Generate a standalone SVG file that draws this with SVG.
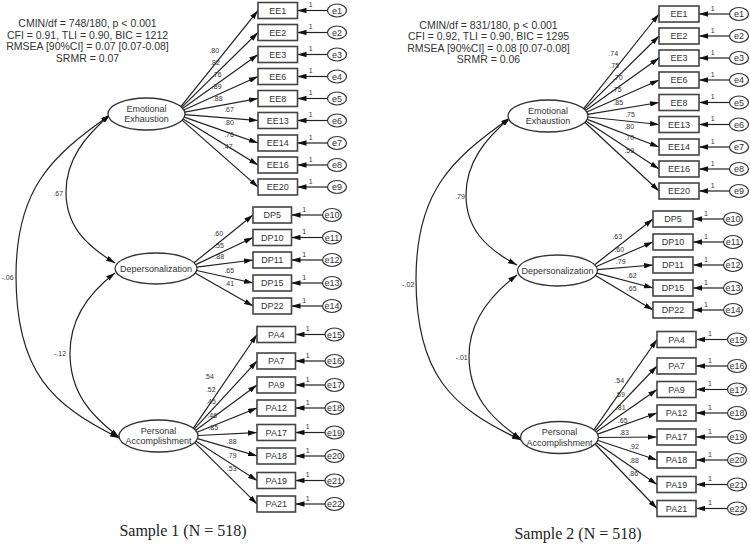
<svg xmlns="http://www.w3.org/2000/svg" width="750" height="545" viewBox="0 0 750 545">
<defs>
<marker id="ah" viewBox="0 0 10 6" refX="10" refY="3" markerWidth="9" markerHeight="5.4" markerUnits="userSpaceOnUse" orient="auto-start-reverse"><path d="M0,0 L10,3 L0,6 z" fill="#111"/></marker>
<style>
.lat{fill:#fff;stroke:#333;stroke-width:1.3}
.obs{fill:#fff;stroke:#444;stroke-width:1.6}
.err{fill:#fff;stroke:#333;stroke-width:1.2}
.t{font-family:"Liberation Sans",Arial,sans-serif;font-size:9px;fill:#333;text-anchor:middle}
.s{font-size:7px}
.st{font-size:10.5px}
.cap{font-family:"Liberation Serif","Times New Roman",serif;font-size:16px;fill:#222;text-anchor:middle}
.ln{stroke:#222;stroke-width:1.2;fill:none;marker-end:url(#ah)}
.cv{stroke:#222;stroke-width:1.2;fill:none;marker-start:url(#ah);marker-end:url(#ah)}
</style>
</defs>
<rect width="750" height="545" fill="#fff"/>

<!-- Fit statistics -->
<g id="fit1" class="t st">
<text x="87.5" y="27">CMIN/df = 748/180, p &lt; 0.001</text>
<text x="87.5" y="38.5">CFI = 0.91, TLI = 0.90, BIC = 1212</text>
<text x="87.5" y="50">RMSEA [90%CI] = 0.07 [0.07-0.08]</text>
<text x="87.5" y="61.5">SRMR = 0.07</text>
</g>
<g id="fit2" class="t st">
<text x="488.5" y="28.5">CMIN/df = 831/180, p &lt; 0.001</text>
<text x="488.5" y="40">CFI = 0.92, TLI = 0.90, BIC = 1295</text>
<text x="488.5" y="51.5">RMSEA [90%CI] = 0.08 [0.07-0.08]</text>
<text x="488.5" y="63">SRMR = 0.06</text>
</g>

<!-- Connectors -->
<g id="connectors">
<!-- Sample 1 covariances -->
<path class="cv" d="M110,115 C50,157 16,190 16,276 C16,372 52,405 119,438"/>
<path class="cv" d="M110,115 C85,136 66,160 66,192 C66,225 85,245 115,263"/>
<path class="cv" d="M115,273 C90,292 70,318 70,353 C70,392 90,415 119,437"/>
<!-- Sample 2 covariances -->
<path class="cv" d="M510,118 C450,160 416,193 416,279 C416,375 452,408 521,440"/>
<path class="cv" d="M510,118 C485,139 466,163 466,195 C466,228 485,248 517,265"/>
<path class="cv" d="M517,275 C492,294 469,320 469,356 C469,395 490,418 521,439"/>

<!-- Sample 1 EE loadings -->
<path class="ln" d="M180.8,106.7 L258,10.5"/>
<path class="ln" d="M181.6,107.4 L258,32.5"/>
<path class="ln" d="M182.6,108.5 L258,54.5"/>
<path class="ln" d="M183.8,110 L258,76.5"/>
<path class="ln" d="M184.7,112.1 L258,98.5"/>
<path class="ln" d="M185,114.7 L258,120.5"/>
<path class="ln" d="M184.3,117.1 L258,143"/>
<path class="ln" d="M183.1,118.9 L258,165"/>
<path class="ln" d="M182.1,120.1 L258,187"/>
<!-- Sample 1 DP loadings -->
<path class="ln" d="M194,262.8 L253,215"/>
<path class="ln" d="M195.7,264.6 L253,237.5"/>
<path class="ln" d="M196.8,267.1 L253,260"/>
<path class="ln" d="M196.7,270.5 L253,283"/>
<path class="ln" d="M195.1,273.1 L253,306"/>
<!-- Sample 1 PA loadings -->
<path class="ln" d="M193.2,428.3 L257,334.5"/>
<path class="ln" d="M194.2,429.2 L257,361"/>
<path class="ln" d="M195.4,430.4 L257,385"/>
<path class="ln" d="M197,432.3 L257,408"/>
<path class="ln" d="M198,435.5 L257,432.5"/>
<path class="ln" d="M197.5,438.7 L257,456"/>
<path class="ln" d="M195.8,441.1 L257,480.5"/>
<path class="ln" d="M194.6,442.4 L257,504"/>
<!-- Sample 2 EE loadings -->
<path class="ln" d="M583.6,108.7 L659,14"/>
<path class="ln" d="M584.5,109.4 L659,36"/>
<path class="ln" d="M585.5,110.5 L659,58"/>
<path class="ln" d="M586.8,112 L659,80"/>
<path class="ln" d="M587.7,114.3 L659,102.5"/>
<path class="ln" d="M588,117 L659,124.5"/>
<path class="ln" d="M587.2,119.4 L659,147"/>
<path class="ln" d="M585.8,121.1 L659,169"/>
<path class="ln" d="M584.8,122.2 L659,191"/>
<!-- Sample 2 DP loadings -->
<path class="ln" d="M594.7,264.7 L653,219"/>
<path class="ln" d="M596.3,266.5 L653,242"/>
<path class="ln" d="M597.4,269.7 L653,265"/>
<path class="ln" d="M597,273.1 L653,288"/>
<path class="ln" d="M595.5,275.4 L653,310"/>
<!-- Sample 2 PA loadings -->
<path class="ln" d="M593.8,429.9 L657,339.5"/>
<path class="ln" d="M594.9,430.8 L657,366"/>
<path class="ln" d="M596.1,432.1 L657,389.5"/>
<path class="ln" d="M597.6,434.1 L657,413"/>
<path class="ln" d="M598.5,437.5 L657,437"/>
<path class="ln" d="M598,440.5 L657,460"/>
<path class="ln" d="M596.3,442.7 L657,484.5"/>
<path class="ln" d="M595,444 L657,508.5"/>

<!-- Sample 1 error paths -->
<path class="ln" d="M327.5,10.5 L297.5,10.5"/>
<path class="ln" d="M327.5,32.5 L297.5,32.5"/>
<path class="ln" d="M327.5,54.5 L297.5,54.5"/>
<path class="ln" d="M327.5,76.5 L297.5,76.5"/>
<path class="ln" d="M327.5,98.5 L297.5,98.5"/>
<path class="ln" d="M327.5,120.5 L297.5,120.5"/>
<path class="ln" d="M327.5,143 L297.5,143"/>
<path class="ln" d="M327.5,165 L297.5,165"/>
<path class="ln" d="M327.5,187 L297.5,187"/>
<path class="ln" d="M322.5,215 L291.5,215"/>
<path class="ln" d="M322.5,237.5 L291.5,237.5"/>
<path class="ln" d="M322.5,260 L291.5,260"/>
<path class="ln" d="M322.5,283 L291.5,283"/>
<path class="ln" d="M322.5,306 L291.5,306"/>
<path class="ln" d="M325,334.5 L295.5,334.5"/>
<path class="ln" d="M325,361 L295.5,361"/>
<path class="ln" d="M325,385 L295.5,385"/>
<path class="ln" d="M325,408 L295.5,408"/>
<path class="ln" d="M325,432.5 L295.5,432.5"/>
<path class="ln" d="M325,456 L295.5,456"/>
<path class="ln" d="M325,480.5 L295.5,480.5"/>
<path class="ln" d="M325,504 L295.5,504"/>
<!-- Sample 2 error paths -->
<path class="ln" d="M729.5,14 L699,14"/>
<path class="ln" d="M729.5,36 L699,36"/>
<path class="ln" d="M729.5,58 L699,58"/>
<path class="ln" d="M729.5,80 L699,80"/>
<path class="ln" d="M729.5,102.5 L699,102.5"/>
<path class="ln" d="M729.5,124.5 L699,124.5"/>
<path class="ln" d="M729.5,147 L699,147"/>
<path class="ln" d="M729.5,169 L699,169"/>
<path class="ln" d="M729.5,191 L699,191"/>
<path class="ln" d="M723.5,219 L693,219"/>
<path class="ln" d="M723.5,242 L693,242"/>
<path class="ln" d="M723.5,265 L693,265"/>
<path class="ln" d="M723.5,288 L693,288"/>
<path class="ln" d="M723.5,310 L693,310"/>
<path class="ln" d="M727.5,339.5 L696,339.5"/>
<path class="ln" d="M727.5,366 L696,366"/>
<path class="ln" d="M727.5,389.5 L696,389.5"/>
<path class="ln" d="M727.5,413 L696,413"/>
<path class="ln" d="M727.5,437 L696,437"/>
<path class="ln" d="M727.5,460 L696,460"/>
<path class="ln" d="M727.5,484.5 L696,484.5"/>
<path class="ln" d="M727.5,508.5 L696,508.5"/>

<!-- Labels -->
<g class="t s">
<text x="58.3" y="195.8">.67</text>
<text x="7.5" y="279.5">-.06</text>
<text x="60" y="355.8">-.12</text>
<text x="460" y="199.2">.79</text>
<text x="408.3" y="286.5">-.02</text>
<text x="461.7" y="360.2">-.01</text>

<text x="214.3" y="53.2">.80</text>
<text x="215" y="65.2">.82</text>
<text x="216.7" y="76.5">.76</text>
<text x="216.7" y="88.5">.89</text>
<text x="217.7" y="100.8">.88</text>
<text x="229" y="111.5">.67</text>
<text x="229" y="124.8">.80</text>
<text x="229" y="136.8">.76</text>
<text x="227.7" y="149.2">.47</text>

<text x="218.3" y="235.8">.60</text>
<text x="219" y="247.5">.55</text>
<text x="219.3" y="259.2">.88</text>
<text x="229.3" y="273.2">.65</text>
<text x="229.3" y="285.8">.41</text>

<text x="209" y="379.2">.54</text>
<text x="210.7" y="391.8">.52</text>
<text x="211" y="404.2">.45</text>
<text x="212.3" y="417.5">.46</text>
<text x="213.3" y="430.2">.85</text>
<text x="231.7" y="444.2">.88</text>
<text x="231.7" y="457.5">.79</text>
<text x="231.7" y="470.8">.53</text>

<text x="613.3" y="55.8">.74</text>
<text x="614.3" y="68.2">.75</text>
<text x="617.7" y="80.2">.70</text>
<text x="616.7" y="91.8">.75</text>
<text x="618.3" y="104.8">.85</text>
<text x="630" y="116.5">.75</text>
<text x="629.3" y="129.2">.80</text>
<text x="629.3" y="140.2">.70</text>
<text x="629.3" y="153.2">.59</text>

<text x="617.3" y="239.2">.63</text>
<text x="619.3" y="251.8">.60</text>
<text x="620.7" y="264.2">.79</text>
<text x="631.7" y="277.5">.62</text>
<text x="631.7" y="290.8">.65</text>

<text x="619.3" y="383.2">.54</text>
<text x="620" y="396.5">.59</text>
<text x="620.7" y="409.8">.81</text>
<text x="622.7" y="422.5">.65</text>
<text x="624" y="435.2">.83</text>
<text x="634" y="449.2">.92</text>
<text x="634" y="462.5">.88</text>
<text x="633.3" y="475.8">.86</text>

<text x="310.7" y="7">1</text>
<text x="310.7" y="29">1</text>
<text x="310.7" y="51">1</text>
<text x="310.7" y="73">1</text>
<text x="310.7" y="95">1</text>
<text x="310.7" y="117">1</text>
<text x="310.7" y="139.5">1</text>
<text x="310.7" y="161.5">1</text>
<text x="310.7" y="183.5">1</text>
<text x="304.3" y="211.5">1</text>
<text x="304.3" y="234">1</text>
<text x="304.3" y="256.5">1</text>
<text x="304.3" y="279.5">1</text>
<text x="304.3" y="302.5">1</text>
<text x="307.7" y="331">1</text>
<text x="307.7" y="357.5">1</text>
<text x="307.7" y="381.5">1</text>
<text x="307.7" y="404.5">1</text>
<text x="307.7" y="429">1</text>
<text x="307.7" y="452.5">1</text>
<text x="307.7" y="477">1</text>
<text x="307.7" y="500.5">1</text>

<text x="712.7" y="10.5">1</text>
<text x="712.7" y="32.5">1</text>
<text x="712.7" y="54.5">1</text>
<text x="712.7" y="76.5">1</text>
<text x="712.7" y="99">1</text>
<text x="712.7" y="121">1</text>
<text x="712.7" y="143.5">1</text>
<text x="712.7" y="165.5">1</text>
<text x="712.7" y="187.5">1</text>
<text x="706" y="215.5">1</text>
<text x="706" y="238.5">1</text>
<text x="706" y="261.5">1</text>
<text x="706" y="284.5">1</text>
<text x="706" y="306.5">1</text>
<text x="710" y="336">1</text>
<text x="710" y="362.5">1</text>
<text x="710" y="386">1</text>
<text x="710" y="409.5">1</text>
<text x="710" y="433.5">1</text>
<text x="710" y="456.5">1</text>
<text x="710" y="481">1</text>
<text x="710" y="505">1</text>
</g>
</g>

<!-- Sample 1 latent nodes -->
<g id="S1_EE"><ellipse class="lat" cx="146.5" cy="114" rx="38.5" ry="16"/><text class="t" x="146.5" y="111.7">Emotional</text><text class="t" x="146.5" y="122.3">Exhaustion</text></g>
<g id="S1_DP"><ellipse class="lat" cx="156" cy="268.5" rx="41" ry="15.5"/><text class="t" x="156" y="271.7">Depersonalization</text></g>
<g id="S1_PA"><ellipse class="lat" cx="158.5" cy="436" rx="39.5" ry="16"/><text class="t" x="158.5" y="433.7">Personal</text><text class="t" x="158.5" y="444.3">Accomplishment</text></g>

<!-- Sample 1 observed nodes -->
<g id="S1_EE1"><rect class="obs" x="258" y="2.5" width="39.5" height="16"/><text class="t" x="277.75" y="13.7">EE1</text></g>
<g id="S1_EE2"><rect class="obs" x="258" y="24.5" width="39.5" height="16"/><text class="t" x="277.75" y="35.7">EE2</text></g>
<g id="S1_EE3"><rect class="obs" x="258" y="46.5" width="39.5" height="16"/><text class="t" x="277.75" y="57.7">EE3</text></g>
<g id="S1_EE6"><rect class="obs" x="258" y="68.5" width="39.5" height="16"/><text class="t" x="277.75" y="79.7">EE6</text></g>
<g id="S1_EE8"><rect class="obs" x="258" y="90.5" width="39.5" height="16"/><text class="t" x="277.75" y="101.7">EE8</text></g>
<g id="S1_EE13"><rect class="obs" x="258" y="112.5" width="39.5" height="16"/><text class="t" x="277.75" y="123.7">EE13</text></g>
<g id="S1_EE14"><rect class="obs" x="258" y="135" width="39.5" height="16"/><text class="t" x="277.75" y="146.2">EE14</text></g>
<g id="S1_EE16"><rect class="obs" x="258" y="157" width="39.5" height="16"/><text class="t" x="277.75" y="168.2">EE16</text></g>
<g id="S1_EE20"><rect class="obs" x="258" y="179" width="39.5" height="16"/><text class="t" x="277.75" y="190.2">EE20</text></g>
<g id="S1_DP5"><rect class="obs" x="253" y="207" width="38.5" height="16"/><text class="t" x="272.25" y="218.2">DP5</text></g>
<g id="S1_DP10"><rect class="obs" x="253" y="229.5" width="38.5" height="16"/><text class="t" x="272.25" y="240.7">DP10</text></g>
<g id="S1_DP11"><rect class="obs" x="253" y="252" width="38.5" height="16"/><text class="t" x="272.25" y="263.2">DP11</text></g>
<g id="S1_DP15"><rect class="obs" x="253" y="275" width="38.5" height="16"/><text class="t" x="272.25" y="286.2">DP15</text></g>
<g id="S1_DP22"><rect class="obs" x="253" y="298" width="38.5" height="16"/><text class="t" x="272.25" y="309.2">DP22</text></g>
<g id="S1_PA4"><rect class="obs" x="257" y="326.5" width="38.5" height="16"/><text class="t" x="276.25" y="337.7">PA4</text></g>
<g id="S1_PA7"><rect class="obs" x="257" y="353" width="38.5" height="16"/><text class="t" x="276.25" y="364.2">PA7</text></g>
<g id="S1_PA9"><rect class="obs" x="257" y="377" width="38.5" height="16"/><text class="t" x="276.25" y="388.2">PA9</text></g>
<g id="S1_PA12"><rect class="obs" x="257" y="400" width="38.5" height="16"/><text class="t" x="276.25" y="411.2">PA12</text></g>
<g id="S1_PA17"><rect class="obs" x="257" y="424.5" width="38.5" height="16"/><text class="t" x="276.25" y="435.7">PA17</text></g>
<g id="S1_PA18"><rect class="obs" x="257" y="448" width="38.5" height="16"/><text class="t" x="276.25" y="459.2">PA18</text></g>
<g id="S1_PA19"><rect class="obs" x="257" y="472.5" width="38.5" height="16"/><text class="t" x="276.25" y="483.7">PA19</text></g>
<g id="S1_PA21"><rect class="obs" x="257" y="496" width="38.5" height="16"/><text class="t" x="276.25" y="507.2">PA21</text></g>

<!-- Sample 1 error nodes -->
<g id="S1_e1"><ellipse class="err" cx="337" cy="10.5" rx="9.5" ry="6.5"/><text class="t" x="337" y="13.5">e1</text></g>
<g id="S1_e2"><ellipse class="err" cx="337" cy="32.5" rx="9.5" ry="6.5"/><text class="t" x="337" y="35.5">e2</text></g>
<g id="S1_e3"><ellipse class="err" cx="337" cy="54.5" rx="9.5" ry="6.5"/><text class="t" x="337" y="57.5">e3</text></g>
<g id="S1_e4"><ellipse class="err" cx="337" cy="76.5" rx="9.5" ry="6.5"/><text class="t" x="337" y="79.5">e4</text></g>
<g id="S1_e5"><ellipse class="err" cx="337" cy="98.5" rx="9.5" ry="6.5"/><text class="t" x="337" y="101.5">e5</text></g>
<g id="S1_e6"><ellipse class="err" cx="337" cy="120.5" rx="9.5" ry="6.5"/><text class="t" x="337" y="123.5">e6</text></g>
<g id="S1_e7"><ellipse class="err" cx="337" cy="143" rx="9.5" ry="6.5"/><text class="t" x="337" y="146">e7</text></g>
<g id="S1_e8"><ellipse class="err" cx="337" cy="165" rx="9.5" ry="6.5"/><text class="t" x="337" y="168">e8</text></g>
<g id="S1_e9"><ellipse class="err" cx="337" cy="187" rx="9.5" ry="6.5"/><text class="t" x="337" y="190">e9</text></g>
<g id="S1_e10"><ellipse class="err" cx="332" cy="215" rx="9.5" ry="6.5"/><text class="t" x="332" y="218">e10</text></g>
<g id="S1_e11"><ellipse class="err" cx="332" cy="237.5" rx="9.5" ry="6.5"/><text class="t" x="332" y="240.5">e11</text></g>
<g id="S1_e12"><ellipse class="err" cx="332" cy="260" rx="9.5" ry="6.5"/><text class="t" x="332" y="263">e12</text></g>
<g id="S1_e13"><ellipse class="err" cx="332" cy="283" rx="9.5" ry="6.5"/><text class="t" x="332" y="286">e13</text></g>
<g id="S1_e14"><ellipse class="err" cx="332" cy="306" rx="9.5" ry="6.5"/><text class="t" x="332" y="309">e14</text></g>
<g id="S1_e15"><ellipse class="err" cx="334.5" cy="334.5" rx="9.5" ry="6.5"/><text class="t" x="334.5" y="337.5">e15</text></g>
<g id="S1_e16"><ellipse class="err" cx="334.5" cy="361" rx="9.5" ry="6.5"/><text class="t" x="334.5" y="364">e16</text></g>
<g id="S1_e17"><ellipse class="err" cx="334.5" cy="385" rx="9.5" ry="6.5"/><text class="t" x="334.5" y="388">e17</text></g>
<g id="S1_e18"><ellipse class="err" cx="334.5" cy="408" rx="9.5" ry="6.5"/><text class="t" x="334.5" y="411">e18</text></g>
<g id="S1_e19"><ellipse class="err" cx="334.5" cy="432.5" rx="9.5" ry="6.5"/><text class="t" x="334.5" y="435.5">e19</text></g>
<g id="S1_e20"><ellipse class="err" cx="334.5" cy="456" rx="9.5" ry="6.5"/><text class="t" x="334.5" y="459">e20</text></g>
<g id="S1_e21"><ellipse class="err" cx="334.5" cy="480.5" rx="9.5" ry="6.5"/><text class="t" x="334.5" y="483.5">e21</text></g>
<g id="S1_e22"><ellipse class="err" cx="334.5" cy="504" rx="9.5" ry="6.5"/><text class="t" x="334.5" y="507">e22</text></g>

<!-- Sample 2 latent nodes -->
<g id="S2_EE"><ellipse class="lat" cx="548" cy="116" rx="40" ry="16"/><text class="t" x="548" y="113.7">Emotional</text><text class="t" x="548" y="124.3">Exhaustion</text></g>
<g id="S2_DP"><ellipse class="lat" cx="557.5" cy="270.5" rx="40" ry="15.5"/><text class="t" x="557.5" y="273.7">Depersonalization</text></g>
<g id="S2_PA"><ellipse class="lat" cx="559.5" cy="437.5" rx="39" ry="16"/><text class="t" x="559.5" y="435.2">Personal</text><text class="t" x="559.5" y="445.8">Accomplishment</text></g>

<!-- Sample 2 observed nodes -->
<g id="S2_EE1"><rect class="obs" x="659" y="6" width="40" height="16"/><text class="t" x="679" y="17.2">EE1</text></g>
<g id="S2_EE2"><rect class="obs" x="659" y="28" width="40" height="16"/><text class="t" x="679" y="39.2">EE2</text></g>
<g id="S2_EE3"><rect class="obs" x="659" y="50" width="40" height="16"/><text class="t" x="679" y="61.2">EE3</text></g>
<g id="S2_EE6"><rect class="obs" x="659" y="72" width="40" height="16"/><text class="t" x="679" y="83.2">EE6</text></g>
<g id="S2_EE8"><rect class="obs" x="659" y="94.5" width="40" height="16"/><text class="t" x="679" y="105.7">EE8</text></g>
<g id="S2_EE13"><rect class="obs" x="659" y="116.5" width="40" height="16"/><text class="t" x="679" y="127.7">EE13</text></g>
<g id="S2_EE14"><rect class="obs" x="659" y="139" width="40" height="16"/><text class="t" x="679" y="150.2">EE14</text></g>
<g id="S2_EE16"><rect class="obs" x="659" y="161" width="40" height="16"/><text class="t" x="679" y="172.2">EE16</text></g>
<g id="S2_EE20"><rect class="obs" x="659" y="183" width="40" height="16"/><text class="t" x="679" y="194.2">EE20</text></g>
<g id="S2_DP5"><rect class="obs" x="653" y="211" width="40" height="16"/><text class="t" x="673" y="222.2">DP5</text></g>
<g id="S2_DP10"><rect class="obs" x="653" y="234" width="40" height="16"/><text class="t" x="673" y="245.2">DP10</text></g>
<g id="S2_DP11"><rect class="obs" x="653" y="257" width="40" height="16"/><text class="t" x="673" y="268.2">DP11</text></g>
<g id="S2_DP15"><rect class="obs" x="653" y="280" width="40" height="16"/><text class="t" x="673" y="291.2">DP15</text></g>
<g id="S2_DP22"><rect class="obs" x="653" y="302" width="40" height="16"/><text class="t" x="673" y="313.2">DP22</text></g>
<g id="S2_PA4"><rect class="obs" x="657" y="331.5" width="39" height="16"/><text class="t" x="676.5" y="342.7">PA4</text></g>
<g id="S2_PA7"><rect class="obs" x="657" y="358" width="39" height="16"/><text class="t" x="676.5" y="369.2">PA7</text></g>
<g id="S2_PA9"><rect class="obs" x="657" y="381.5" width="39" height="16"/><text class="t" x="676.5" y="392.7">PA9</text></g>
<g id="S2_PA12"><rect class="obs" x="657" y="405" width="39" height="16"/><text class="t" x="676.5" y="416.2">PA12</text></g>
<g id="S2_PA17"><rect class="obs" x="657" y="429" width="39" height="16"/><text class="t" x="676.5" y="440.2">PA17</text></g>
<g id="S2_PA18"><rect class="obs" x="657" y="452" width="39" height="16"/><text class="t" x="676.5" y="463.2">PA18</text></g>
<g id="S2_PA19"><rect class="obs" x="657" y="476.5" width="39" height="16"/><text class="t" x="676.5" y="487.7">PA19</text></g>
<g id="S2_PA21"><rect class="obs" x="657" y="500.5" width="39" height="16"/><text class="t" x="676.5" y="511.7">PA21</text></g>

<!-- Sample 2 error nodes -->
<g id="S2_e1"><ellipse class="err" cx="739" cy="14" rx="9.5" ry="6.5"/><text class="t" x="739" y="17">e1</text></g>
<g id="S2_e2"><ellipse class="err" cx="739" cy="36" rx="9.5" ry="6.5"/><text class="t" x="739" y="39">e2</text></g>
<g id="S2_e3"><ellipse class="err" cx="739" cy="58" rx="9.5" ry="6.5"/><text class="t" x="739" y="61">e3</text></g>
<g id="S2_e4"><ellipse class="err" cx="739" cy="80" rx="9.5" ry="6.5"/><text class="t" x="739" y="83">e4</text></g>
<g id="S2_e5"><ellipse class="err" cx="739" cy="102.5" rx="9.5" ry="6.5"/><text class="t" x="739" y="105.5">e5</text></g>
<g id="S2_e6"><ellipse class="err" cx="739" cy="124.5" rx="9.5" ry="6.5"/><text class="t" x="739" y="127.5">e6</text></g>
<g id="S2_e7"><ellipse class="err" cx="739" cy="147" rx="9.5" ry="6.5"/><text class="t" x="739" y="150">e7</text></g>
<g id="S2_e8"><ellipse class="err" cx="739" cy="169" rx="9.5" ry="6.5"/><text class="t" x="739" y="172">e8</text></g>
<g id="S2_e9"><ellipse class="err" cx="739" cy="191" rx="9.5" ry="6.5"/><text class="t" x="739" y="194">e9</text></g>
<g id="S2_e10"><ellipse class="err" cx="733" cy="219" rx="9.5" ry="6.5"/><text class="t" x="733" y="222">e10</text></g>
<g id="S2_e11"><ellipse class="err" cx="733" cy="242" rx="9.5" ry="6.5"/><text class="t" x="733" y="245">e11</text></g>
<g id="S2_e12"><ellipse class="err" cx="733" cy="265" rx="9.5" ry="6.5"/><text class="t" x="733" y="268">e12</text></g>
<g id="S2_e13"><ellipse class="err" cx="733" cy="288" rx="9.5" ry="6.5"/><text class="t" x="733" y="291">e13</text></g>
<g id="S2_e14"><ellipse class="err" cx="733" cy="310" rx="9.5" ry="6.5"/><text class="t" x="733" y="313">e14</text></g>
<g id="S2_e15"><ellipse class="err" cx="737" cy="339.5" rx="9.5" ry="6.5"/><text class="t" x="737" y="342.5">e15</text></g>
<g id="S2_e16"><ellipse class="err" cx="737" cy="366" rx="9.5" ry="6.5"/><text class="t" x="737" y="369">e16</text></g>
<g id="S2_e17"><ellipse class="err" cx="737" cy="389.5" rx="9.5" ry="6.5"/><text class="t" x="737" y="392.5">e17</text></g>
<g id="S2_e18"><ellipse class="err" cx="737" cy="413" rx="9.5" ry="6.5"/><text class="t" x="737" y="416">e18</text></g>
<g id="S2_e19"><ellipse class="err" cx="737" cy="437" rx="9.5" ry="6.5"/><text class="t" x="737" y="440">e19</text></g>
<g id="S2_e20"><ellipse class="err" cx="737" cy="460" rx="9.5" ry="6.5"/><text class="t" x="737" y="463">e20</text></g>
<g id="S2_e21"><ellipse class="err" cx="737" cy="484.5" rx="9.5" ry="6.5"/><text class="t" x="737" y="487.5">e21</text></g>
<g id="S2_e22"><ellipse class="err" cx="737" cy="508.5" rx="9.5" ry="6.5"/><text class="t" x="737" y="511.5">e22</text></g>

<!-- Captions -->
<text class="cap" x="183" y="536">Sample 1 (N = 518)</text>
<text class="cap" x="578" y="538.5">Sample 2 (N = 518)</text>
</svg>
